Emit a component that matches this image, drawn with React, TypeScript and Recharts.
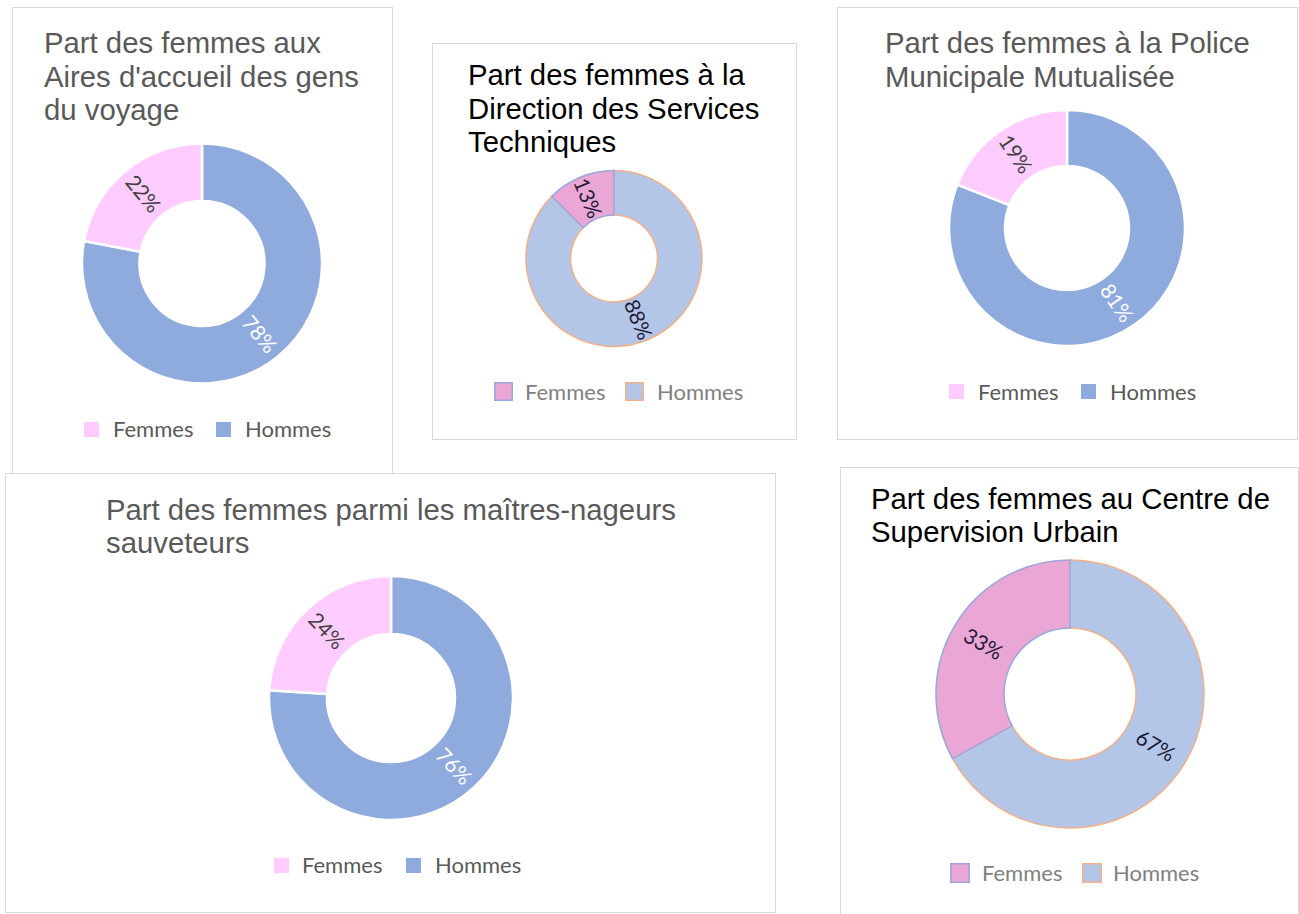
import React from 'react';
import { PieChart, Pie, Cell } from 'recharts';

// ---------- data ----------
const categories = ['Femmes', 'Hommes'];

const airesValues = [22, 78];
const servicesTechniquesValues = [12.5, 87.5];
const policeValues = [19, 81];
const maitresNageursValues = [24, 76];
const supervisionValues = [33, 67];

const airesTitle = ['Part des femmes aux', "Aires d'accueil des gens", 'du voyage'];
const servicesTitle = ['Part des femmes à la', 'Direction des Services', 'Techniques'];
const policeTitle = ['Part des femmes à la Police', 'Municipale Mutualisée'];
const nageursTitle = ['Part des femmes parmi les maîtres-nageurs', 'sauveteurs'];
const supervisionTitle = ['Part des femmes au Centre de', 'Supervision Urbain'];

// ---------- styles ----------
type Theme = {
  fill: Record<string, string>;
  stroke: Record<string, string>;
  strokeWidth: number;
  label: Record<string, string>;
  title: string;
  legend: string;
  legendStroke: Record<string, string> | null;
};

const themeA: Theme = {
  fill: { Femmes: '#ffccff', Hommes: '#8faadc' },
  stroke: { Femmes: '#ffffff', Hommes: '#ffffff' },
  strokeWidth: 2.5,
  label: { Femmes: '#404040', Hommes: '#ffffff' },
  title: '#595959',
  legend: '#595959',
  legendStroke: null,
};

const themeB: Theme = {
  fill: { Femmes: '#eaa7d5', Hommes: '#b4c6e7' },
  stroke: { Femmes: '#9aa6dc', Hommes: '#f0b089' },
  strokeWidth: 1.5,
  label: { Femmes: '#201c36', Hommes: '#201c36' },
  title: '#000000',
  legend: '#808080',
  legendStroke: { Femmes: '#9aa6dc', Hommes: '#f0b089' },
};

type Panel = {
  key: string;
  values: number[];
  title: string[];
  theme: Theme;
  box: { x: number; y: number; w: number; h: number };
  center: { x: number; y: number };
  radii: { inner: number; outer: number };
  titlePos: { x: number; y: number; lh: number };
  legend: { sq: number; sqY: number; baseline: number; sqX: number[]; textX: number[] };
};

const panels: Panel[] = [
  {
    key: 'aires',
    values: airesValues,
    title: airesTitle,
    theme: themeA,
    box: { x: 12, y: 7, w: 381, h: 467 },
    center: { x: 202, y: 263.5 },
    radii: { inner: 62.5, outer: 120 },
    titlePos: { x: 44, y: 53, lh: 33.5 },
    legend: { sq: 15, sqY: 422, baseline: 437, sqX: [84, 216], textX: [113, 245] },
  },
  {
    key: 'services',
    values: servicesTechniquesValues,
    title: servicesTitle,
    theme: themeB,
    box: { x: 432, y: 43, w: 365, h: 397 },
    center: { x: 614, y: 258.5 },
    radii: { inner: 43.5, outer: 88 },
    titlePos: { x: 468, y: 85, lh: 33.5 },
    legend: { sq: 19, sqY: 382, baseline: 400, sqX: [494, 625], textX: [525, 657] },
  },
  {
    key: 'police',
    values: policeValues,
    title: policeTitle,
    theme: themeA,
    box: { x: 837, y: 7, w: 461, h: 433 },
    center: { x: 1067, y: 228 },
    radii: { inner: 62, outer: 118 },
    titlePos: { x: 885, y: 52.7, lh: 34 },
    legend: { sq: 15, sqY: 384, baseline: 399.5, sqX: [949, 1081], textX: [978, 1110] },
  },
  {
    key: 'nageurs',
    values: maitresNageursValues,
    title: nageursTitle,
    theme: themeA,
    box: { x: 5, y: 473, w: 771, h: 440 },
    center: { x: 391, y: 698 },
    radii: { inner: 64, outer: 122 },
    titlePos: { x: 106, y: 520, lh: 33 },
    legend: { sq: 15, sqY: 858, baseline: 873, sqX: [274, 406], textX: [302, 435] },
  },
  {
    key: 'supervision',
    values: supervisionValues,
    title: supervisionTitle,
    theme: themeB,
    box: { x: 840, y: 467, w: 459, h: 460 },
    center: { x: 1070, y: 694 },
    radii: { inner: 66, outer: 134 },
    titlePos: { x: 871, y: 509.3, lh: 32.5 },
    legend: { sq: 20, sqY: 863, baseline: 881, sqX: [950, 1082], textX: [982, 1113] },
  },
];

const RAD = Math.PI / 180;
const LABEL_FONT = 'Lato, "Open Sans", sans-serif';
const TITLE_FONT = '"Liberation Sans", Arial, sans-serif';

function makeLabel(theme: Theme) {
  return (props: any) => {
    const { cx, cy, midAngle, innerRadius, outerRadius, value } = props;
    const name = props.name ?? props.payload?.name;
    const r = (innerRadius + outerRadius) / 2;
    const x = cx + r * Math.cos(-midAngle * RAD);
    const y = cy + r * Math.sin(-midAngle * RAD);
    let a = -midAngle;
    while (a > 90) a -= 180;
    while (a <= -90) a += 180;
    return (
      <text
        x={x}
        y={y}
        transform={`rotate(${a} ${x} ${y})`}
        textAnchor="middle"
        dominantBaseline="central"
        fill={theme.label[name]}
        fontFamily={LABEL_FONT}
        fontSize={21}
      >
        {Math.round(value)}%
      </text>
    );
  };
}

function DonutPanel({ p }: { p: Panel }) {
  // Hommes drawn first clockwise from 12 o'clock; Femmes closes the ring at 12 o'clock
  const data = [
    { name: categories[1], value: p.values[1] },
    { name: categories[0], value: p.values[0] },
  ];
  return (
    <div style={{ position: 'absolute', left: p.box.x, top: p.box.y, width: p.box.w, height: p.box.h }}>
      <PieChart width={p.box.w} height={p.box.h} margin={{ top: 0, right: 0, bottom: 0, left: 0 }}>
        <Pie
          data={data}
          dataKey="value"
          nameKey="name"
          cx={p.center.x - p.box.x}
          cy={p.center.y - p.box.y}
          innerRadius={p.radii.inner}
          outerRadius={p.radii.outer}
          startAngle={90}
          endAngle={-270}
          isAnimationActive={false}
          labelLine={false}
          label={makeLabel(p.theme)}
        >
          {data.map((d) => (
            <Cell
              key={d.name}
              fill={p.theme.fill[d.name]}
              stroke={p.theme.stroke[d.name]}
              strokeWidth={p.theme.strokeWidth}
            />
          ))}
        </Pie>
      </PieChart>
    </div>
  );
}

export default function App() {
  return (
    <div style={{ position: 'absolute', left: 0, top: 0, width: 1299, height: 914, background: '#fff', overflow: 'hidden' }}>
      <svg width={1299} height={914} style={{ position: 'absolute', left: 0, top: 0 }}>
        {panels.map((p) => (
          <rect
            key={p.key}
            x={p.box.x + 0.5}
            y={p.box.y + 0.5}
            width={p.box.w - 1}
            height={p.box.h - 1}
            fill="#ffffff"
            stroke="#d9d9d9"
            strokeWidth={1}
          />
        ))}
        {panels.map((p) => (
          <text key={p.key + '-t'} fontFamily={TITLE_FONT} fontSize={29.3} fill={p.theme.title}>
            {p.title.map((line, i) => (
              <tspan key={i} x={p.titlePos.x} y={p.titlePos.y + i * p.titlePos.lh}>
                {line}
              </tspan>
            ))}
          </text>
        ))}
        {panels.map((p) => (
          <g key={p.key + '-l'}>
            {categories.map((c, i) => (
              <g key={c}>
                <rect
                  x={p.legend.sqX[i] + (p.theme.legendStroke ? 0.75 : 0)}
                  y={p.legend.sqY + (p.theme.legendStroke ? 0.75 : 0)}
                  width={p.legend.sq - (p.theme.legendStroke ? 1.5 : 0)}
                  height={p.legend.sq - (p.theme.legendStroke ? 1.5 : 0)}
                  fill={p.theme.fill[c]}
                  stroke={p.theme.legendStroke ? p.theme.legendStroke[c] : 'none'}
                  strokeWidth={1.5}
                />
                <text x={p.legend.textX[i]} y={p.legend.baseline} fontFamily={LABEL_FONT} fontSize={22} fill={p.theme.legend}>
                  {c}
                </text>
              </g>
            ))}
          </g>
        ))}
      </svg>
      {panels.map((p) => (
        <DonutPanel key={p.key} p={p} />
      ))}
    </div>
  );
}
